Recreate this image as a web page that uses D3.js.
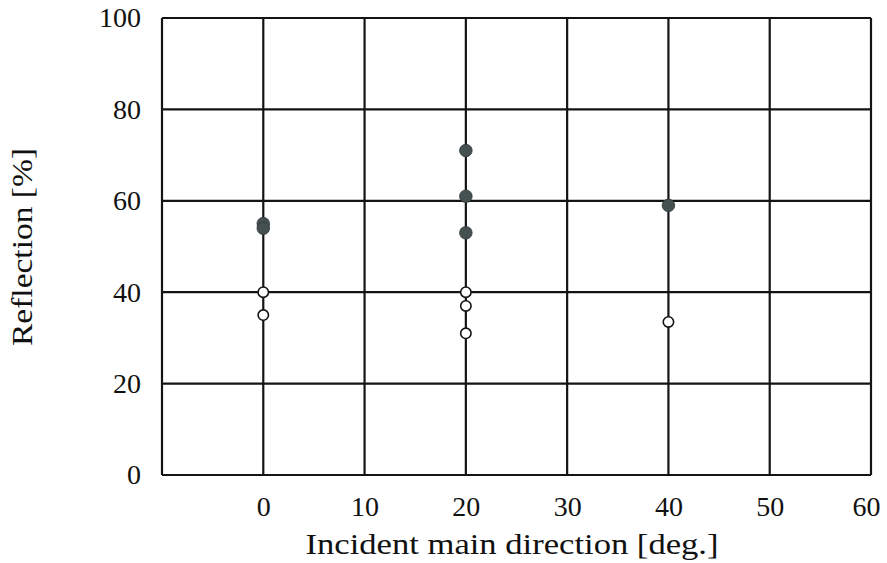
<!DOCTYPE html>
<html><head><meta charset="utf-8">
<script src="https://cdn.jsdelivr.net/npm/d3@7"></script>
<style>body{margin:0;background:#fff}svg{display:block}text{font-family:"Liberation Serif","Times New Roman",serif;fill:#111}</style>
</head><body><svg id="c" width="887" height="563"></svg>
<script>
const xTicks = [0, 10, 20, 30, 40, 50, 60];
const yTicks = [0, 20, 40, 60, 80, 100];
const filledX = [0, 0, 20, 20, 20, 40];
const filledY = [55, 54, 71, 61, 53, 59];
const openX = [0, 0, 20, 20, 20, 40];
const openY = [40, 35, 40, 37, 31, 33.5];
const xLabel = "Incident main direction [deg.]";
const yLabel = "Reflection [%]";

const svg = d3.select("#c");
const L = 162, R = 871, T = 18, B = 475;
const x = d3.scaleLinear().domain([-10, 60]).range([L, R]);
const y = d3.scaleLinear().domain([0, 100]).range([B, T]);
const ink = "#141414";

// grid
const g = svg.append("g").attr("stroke", ink).attr("stroke-width", 2.2);
g.selectAll("line.v").data([-10].concat(xTicks)).join("line")
  .attr("x1", d => x(d)).attr("x2", d => x(d)).attr("y1", T).attr("y2", B);
g.selectAll("line.h").data(yTicks).join("line")
  .attr("x1", L).attr("x2", R).attr("y1", d => y(d)).attr("y2", d => y(d));

const xa = svg.append("g").attr("transform", `translate(0,${B})`)
  .call(d3.axisBottom(x).tickValues(xTicks).tickSize(0).tickPadding(21));
xa.select(".domain").remove();
xa.selectAll("text").attr("font-size", 28).attr("fill", ink);
xa.selectAll(".tick").filter(d => d === 60).select("text").attr("dx", -5);

const ya = svg.append("g").attr("transform", `translate(${L},0)`)
  .call(d3.axisLeft(y).tickValues(yTicks).tickSize(0).tickPadding(21));
ya.select(".domain").remove();
ya.selectAll("text").attr("font-size", 28).attr("fill", ink);

svg.append("text").attr("x", 512).attr("y", 554).attr("text-anchor", "middle")
  .attr("font-size", 30).attr("textLength", 413).attr("lengthAdjust", "spacingAndGlyphs").text(xLabel);
svg.append("text").attr("transform", "translate(32,247) rotate(-90)").attr("text-anchor", "middle")
  .attr("font-size", 30).attr("textLength", 198).attr("lengthAdjust", "spacingAndGlyphs").text(yLabel);

// points
svg.append("g").selectAll("circle").data(openX.map((v, i) => [v, openY[i]])).join("circle")
  .attr("cx", d => x(d[0])).attr("cy", d => y(d[1])).attr("r", 5.2)
  .attr("fill", "#fff").attr("stroke", ink).attr("stroke-width", 1.6);
svg.append("g").selectAll("circle").data(filledX.map((v, i) => [v, filledY[i]])).join("circle")
  .attr("cx", d => x(d[0])).attr("cy", d => y(d[1])).attr("r", 6.3)
  .attr("fill", "#455050").attr("stroke", "#323a39").attr("stroke-width", 0.8);
</script></body></html>
